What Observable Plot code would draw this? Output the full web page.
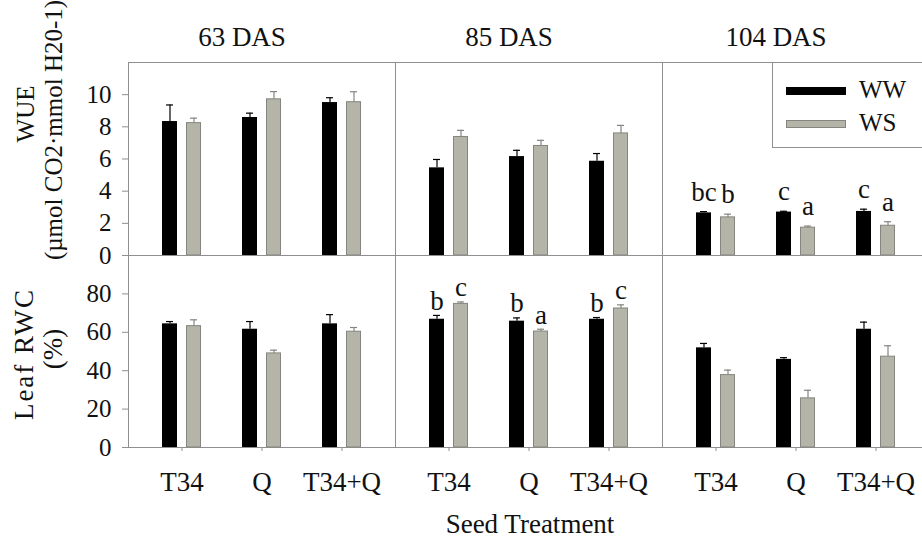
<!DOCTYPE html>
<html>
<head>
<meta charset="utf-8">
<script src="https://cdn.jsdelivr.net/npm/d3@7"></script>
<script src="https://cdn.jsdelivr.net/npm/@observablehq/plot@0.6"></script>
<style>
  html, body { margin: 0; padding: 0; background: #fff; }
  #wrap { position: relative; width: 922px; height: 544px; overflow: hidden;
          font-family: "Liberation Serif", Tinos, "DejaVu Serif", "Times New Roman", Times, serif; color: #111; }
  #wrap svg { position: absolute; left: 0; max-width: none !important; background: none !important; }
  .lab { position: absolute; white-space: nowrap; line-height: 1; }
  .rot { transform: translate(-50%, -50%) rotate(-90deg); }
</style>
</head>
<body>
<div id="wrap"></div>
<script>
// ---------------- data ----------------
const days = ["63 DAS", "85 DAS", "104 DAS"];
const treatments = ["T34", "Q", "T34+Q"];
const seriesNames = ["WW", "WS"];

// WUE means [day][treatment]
const wueWW = [[8.33, 8.58, 9.51], [5.45, 6.15, 5.86], [2.65, 2.70, 2.74]];
const wueWS = [[8.23, 9.71, 9.53], [7.37, 6.81, 7.59], [2.37, 1.73, 1.85]];
const wueErrWW = [[1.03, 0.27, 0.30], [0.52, 0.39, 0.48], [0.08, 0.05, 0.14]];
const wueErrWS = [[0.31, 0.48, 0.65], [0.41, 0.35, 0.50], [0.20, 0.10, 0.25]];
const wueLetWW = [["", "", ""], ["", "", ""], ["bc", "c", "c"]];
const wueLetWS = [["", "", ""], ["", "", ""], ["b", "a", "a"]];

// Leaf RWC means [day][treatment]
const rwcWW = [[64.4, 61.6, 64.4], [66.8, 65.8, 66.8], [51.9, 45.9, 61.6]];
const rwcWS = [[63.2, 49.0, 60.3], [74.8, 60.4, 72.4], [37.7, 25.6, 47.3]];
const rwcErrWW = [[1.2, 4.0, 4.8], [2.0, 1.7, 0.9], [2.3, 0.9, 3.7]];
const rwcErrWS = [[3.3, 1.7, 2.2], [1.0, 1.2, 1.9], [2.6, 4.2, 5.7]];
const rwcLetWW = [["", "", ""], ["b", "b", "b"], ["", "", ""]];
const rwcLetWS = [["", "", ""], ["c", "a", "c"], ["", "", ""]];

const wueTicks = [0, 2, 4, 6, 8, 10];
const rwcTicks = [0, 20, 40, 60, 80];
const wueDomain = [0, 12];
const rwcDomain = [0, 100];

const wueLabel = ["WUE", "(\u00b5mol CO2\u00b7mmol H20-1)"];
const rwcLabel = ["Leaf RWC", "(%)"];
const xLabel = "Seed Treatment";

// ---------------- styles ----------------
const SERIF = "'Liberation Serif', Tinos, 'DejaVu Serif', 'Times New Roman', Times, serif";
const FRAME = "#8f8f8f";
const GRAY = "#b4b4a9";
const GRAY_EDGE = "#85857f";
const INK = "#111";

function buildRows(ww, ws, eww, ews, lww, lws) {
  const rows = [];
  days.forEach((day, i) => treatments.forEach((trt, j) => {
    rows.push({day, trt, series: seriesNames[0], value: ww[i][j], err: eww[i][j], letter: lww[i][j]});
    rows.push({day, trt, series: seriesNames[1], value: ws[i][j], err: ews[i][j], letter: lws[i][j]});
  }));
  return rows;
}

function rowMarks(rows, ticks, letterDy) {
  const ww = rows.filter(d => d.series === seriesNames[0]);
  const ws = rows.filter(d => d.series === seriesNames[1]);
  const top = d => d.value + d.err;
  const c = {fx: "day", x: "trt"};
  return [
    Plot.frame({stroke: FRAME}),
    Plot.barY(ww, {...c, y: "value", fill: "#000", insetLeft: 0, insetRight: 24}),
    Plot.barY(ws, {...c, y: "value", fill: GRAY, stroke: GRAY_EDGE, strokeWidth: 1, insetLeft: 24.5, insetRight: 0.5}),
    Plot.ruleX(ww, {...c, y1: "value", y2: top, stroke: "#000", strokeWidth: 1.2, dx: -12}),
    Plot.ruleX(ws, {...c, y1: "value", y2: top, stroke: GRAY_EDGE, strokeWidth: 1.2, dx: 12}),
    Plot.tickY(ww, {...c, y: top, stroke: "#000", strokeWidth: 1.2, insetLeft: 4, insetRight: 28}),
    Plot.tickY(ws, {...c, y: top, stroke: GRAY_EDGE, strokeWidth: 1.2, insetLeft: 28, insetRight: 4}),
    Plot.text(ww.filter(d => d.letter), {...c, y: top, text: "letter", dx: -12, dy: letterDy,
      lineAnchor: "bottom", fontSize: 27, fontFamily: SERIF, fill: INK}),
    Plot.text(ws.filter(d => d.letter), {...c, y: top, text: "letter", dx: 12, dy: letterDy,
      lineAnchor: "bottom", fontSize: 27, fontFamily: SERIF, fill: INK}),
    Plot.axisY({ticks, tickSize: 6, tickPadding: 11, fontSize: 25, fontFamily: SERIF,
      stroke: FRAME, fill: INK, label: null})
  ];
}

const baseStyle = {fontFamily: SERIF, fontSize: "25px", background: "none", maxWidth: "none", overflow: "visible"};
const W = 929;

const wueRows = buildRows(wueWW, wueWS, wueErrWW, wueErrWS, wueLetWW, wueLetWS);
const rwcRows = buildRows(rwcWW, rwcWS, rwcErrWW, rwcErrWS, rwcLetWW, rwcLetWS);

const xScale = {domain: treatments, paddingInner: 0.5165, paddingOuter: 0.413};

const plotA = Plot.plot({
  width: W, height: 258,
  marginLeft: 128, marginRight: 0, marginTop: 62, marginBottom: 3,
  style: baseStyle,
  fx: {domain: days, padding: 0},
  x: {...xScale, axis: null},
  y: {domain: wueDomain},
  marks: [
    ...rowMarks(wueRows, wueTicks, -11),
    Plot.axisFx({anchor: "top", tickSize: 0, tickPadding: 17, dx: -20, fontSize: 27,
      fontFamily: SERIF, fill: INK, label: null})
  ]
});

const plotB = Plot.plot({
  width: W, height: 292,
  marginLeft: 128, marginRight: 0, marginTop: 3, marginBottom: 97,
  style: baseStyle,
  fx: {domain: days, padding: 0, axis: null},
  x: {...xScale},
  y: {domain: rwcDomain},
  marks: [
    ...rowMarks(rwcRows, rwcTicks, -5.5),
    Plot.axisX({tickSize: 4, tickPadding: 20, fontSize: 27, fontFamily: SERIF,
      stroke: FRAME, fill: INK, label: null})
  ]
});

const wrap = document.getElementById("wrap");
plotA.style.top = "0px";
plotB.style.top = "252px";
wrap.appendChild(plotA);
wrap.appendChild(plotB);

function addLabel(text, x, y, size, extra = {}, rotate = true) {
  const el = document.createElement("div");
  el.className = "lab" + (rotate ? " rot" : "");
  el.textContent = text;
  el.style.left = x + "px";
  el.style.top = y + "px";
  el.style.fontSize = size + "px";
  Object.assign(el.style, extra);
  wrap.appendChild(el);
  return el;
}

// y-axis titles
addLabel(wueLabel[0], 25, 114, 25);
addLabel(wueLabel[1], 53, 130, 25);
addLabel(rwcLabel[0], 24, 354, 27, {letterSpacing: "2px"});
addLabel(rwcLabel[1], 53, 349, 27);

// x-axis title
const xl = addLabel(xLabel, 530, 524, 27, {}, false);
xl.style.transform = "translate(-50%, -50%)";

// legend box
const leg = document.createElement("div");
Object.assign(leg.style, {position: "absolute", left: "772px", top: "62px", width: "170px", height: "86px",
  border: "1px solid " + FRAME, background: "#fff", boxSizing: "border-box"});
wrap.appendChild(leg);
const legendFills = ["#000", GRAY];
const legendEdges = ["#000", GRAY_EDGE];
seriesNames.forEach((name, i) => {
  const sw = document.createElement("div");
  Object.assign(sw.style, {position: "absolute", left: "13px", top: (24 + i * 33) + "px", width: "58px", height: "6px",
    background: legendFills[i], border: "1px solid " + legendEdges[i]});
  leg.appendChild(sw);
  const t = document.createElement("div");
  t.textContent = name;
  Object.assign(t.style, {position: "absolute", left: "86px", top: (14 + i * 33) + "px", fontSize: "25px", lineHeight: "25px", color: INK});
  leg.appendChild(t);
});
</script>
</body>
</html>
